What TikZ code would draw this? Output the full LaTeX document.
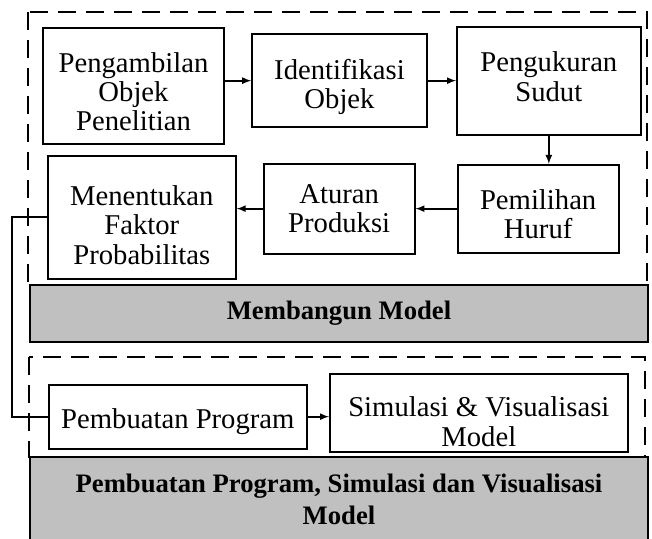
\documentclass[tikz,border=0pt]{standalone}
\usepackage{fontspec}
\setmainfont{Liberation Serif}
\usetikzlibrary{positioning}
\definecolor{barGray}{RGB}{192,192,192}
% invisible strut, pushes the text of a block down (or up, with a depth)
\newcommand{\lowstrut}[2][0pt]{\rule[-#1]{0pt}{#2}}
\tikzset{
    block/.style={
           rectangle,
           draw=black, line width=1.3pt,
           fill=white,
           font=\fontsize{21.5}{22}\selectfont,
           align=center,
           inner sep=2pt,
           },
    bar/.style={
           rectangle,
           draw=black, line width=2pt,
           fill=barGray,
           font=\fontsize{20}{24}\selectfont\bfseries,
           align=center,
           minimum width=463.5pt,
           },
    frame/.style={
           draw=black, line width=1.5pt,
           dash pattern=on 13.5pt off 7.5pt,
           },
    link/.style={
           draw=black, line width=1.3pt,
           },
}

\begin{document}
\begin{tikzpicture}[x=0.75pt,y=-0.75pt,>=latex]
 \useasboundingbox (0,0) rectangle (652,538);

 % dashed frames of the two stages
 \draw[frame] (28,12) rectangle (647,285);
 \draw[frame] (29,357) rectangle (645,457);

 % STAGE 1: building the model
 \node[block,
  minimum width=135.75pt,
  minimum height=87pt,
  anchor=center] (Pengambilan) at (133.5,86)
 {\lowstrut{23.7pt}Pengambilan\\Objek\\Penelitian};

 \node[block,
  right of=Pengambilan,
  node distance=154.5pt,
  yshift=4pt,
  minimum width=131.25pt,
  minimum height=69.75pt,
  anchor=center] (Identifikasi)
 {\lowstrut{24.5pt}Identifikasi\\Objek};

 \node[block,
  right of=Identifikasi,
  node distance=157pt,
  minimum width=138pt,
  minimum height=81pt,
  anchor=center] (Pengukuran)
 {Pengukuran\\Sudut\lowstrut[6pt]{6pt}};

 \node[block,
  below of=Pengukuran,
  node distance=96pt,
  xshift=-8pt,
  minimum width=120.75pt,
  minimum height=66pt,
  anchor=center] (Pemilihan)
 {\lowstrut{23.7pt}Pemilihan\\Huruf};

 \node[block,
  left of=Pemilihan,
  node distance=149.25pt,
  minimum width=113.25pt,
  minimum height=67.5pt,
  anchor=center] (Aturan)
 {Aturan\\Produksi};

 \node[block,
  left of=Aturan,
  node distance=148pt,
  yshift=-6.4pt,
  minimum width=141pt,
  minimum height=92.25pt,
  anchor=center] (Menentukan)
 {\lowstrut{26.7pt}Menentukan\\Faktor\\Probabilitas};

 \node[bar,
  minimum height=42.75pt,
  anchor=center] (Membangun) at (339,313.5)
 {Membangun Model};

 % STAGE 2: program, simulation and visualisation
 \node[block,
  below of=Menentukan,
  node distance=149.6pt,
  xshift=27pt,
  minimum width=193.5pt,
  minimum height=48pt,
  anchor=center] (Pembuatan)
 {\lowstrut{22pt}Pembuatan Program};

 \node[block,
  right of=Pembuatan,
  node distance=225.75pt,
  yshift=3pt,
  minimum width=223.5pt,
  minimum height=58.5pt,
  anchor=center] (Simulasi)
 {\lowstrut{28.7pt}Simulasi \& Visualisasi\\Model};

 \node[bar,
  minimum height=63pt,
  anchor=center] (Program) at (339,499)
 {Pembuatan Program, Simulasi dan Visualisasi\\Model};

 % draw the paths between the steps
 \draw[link,->] (Pengambilan.east |- Identifikasi.west) -- (Identifikasi.west);
 \draw[link,->] (Identifikasi.east) -- (Pengukuran.west |- Identifikasi.east);
 \draw[link,->] (Pengukuran.south) -- (Pengukuran.south |- Pemilihan.north);
 \draw[link,->] (Pemilihan.west) -- (Aturan.east |- Pemilihan.west);
 \draw[link,->] (Aturan.west) -- (Menentukan.east |- Aturan.west);
 \draw[link] (Menentukan.west) -- ++(-35,0) |- (Pembuatan.west);
 \draw[link,->] (Pembuatan.east) -- (Simulasi.west |- Pembuatan.east);

\end{tikzpicture}
\end{document}
